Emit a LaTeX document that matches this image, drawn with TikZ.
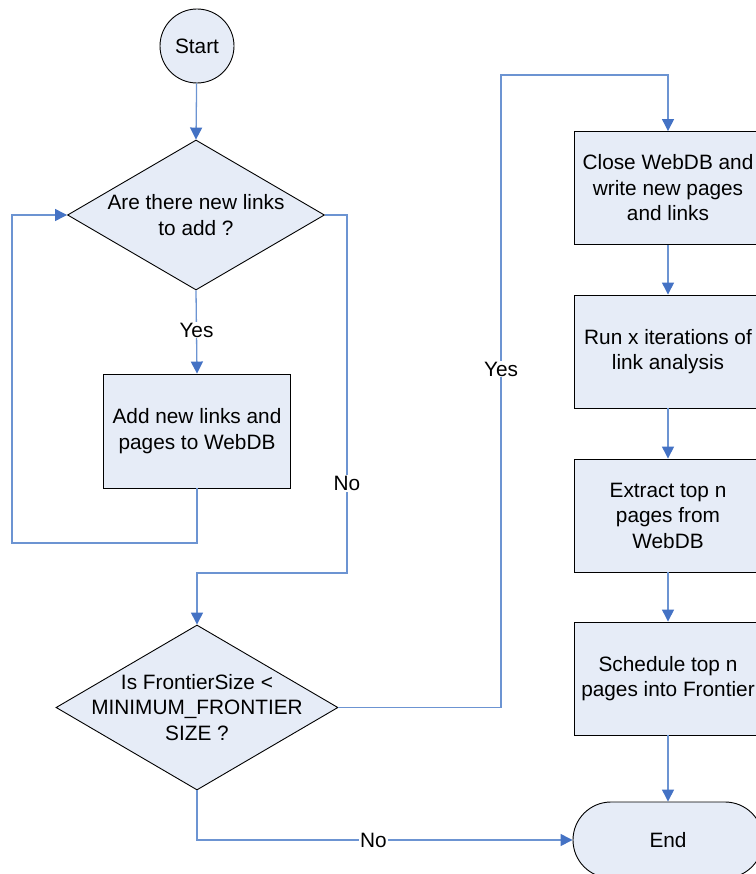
\documentclass[tikz,border=0pt]{standalone}
\usepackage{fontspec}
\setmainfont{Liberation Sans}
\usetikzlibrary{shapes.geometric,shapes.misc,arrows.meta}
\definecolor{boxfill}{RGB}{230,236,247}
\definecolor{flowline}{RGB}{108,148,210}
\definecolor{flowtip}{RGB}{68,114,196}
\tikzset{
  labelfont/.style={font=\fontsize{20.8}{25.5}\selectfont},
  base/.style={draw=black, line width=0.9pt, fill=boxfill, inner sep=0pt,
    align=center, labelfont},
  startnode/.style={base, circle, minimum size=74pt},
  decision/.style={base, diamond},
  process/.style={base, rectangle, minimum width=188pt, minimum height=113pt},
  terminal/.style={base, rounded rectangle, minimum width=190pt, minimum height=76pt},
  flow/.style={draw=flowline, line width=1.3pt,
    -{Triangle[length=12pt,width=12pt,fill=flowtip,color=flowtip]}},
  lbl/.style={fill=white, inner sep=1pt, labelfont}
}
\begin{document}
\begin{tikzpicture}[x=1pt,y=-1pt]
\useasboundingbox (0,0) rectangle (755,874);

% left column
\node[startnode] (start) at (197,46) {Start};
\node[decision, minimum width=257pt, minimum height=150pt,
  label={[align=center,labelfont]center:Are there new links\\to add ?}]
  (d1) at (196,215) {};
\node[process, minimum width=187pt, minimum height=114pt] (b1) at (197,431)
  {Add new links and\\pages to WebDB};
\node[decision, minimum width=282pt, minimum height=165pt,
  label={[align=center,labelfont]center:Is FrontierSize <\\MINIMUM\_FRONTIER\\SIZE ?}]
  (d2) at (197,707.5) {};

% right column
\node[process] (b2) at (668,188) {Close WebDB and\\write new pages\\and links};
\node[process] (b3) at (668,351.5) {Run x iterations of\\link analysis};
\node[process] (b4) at (668,515.5) {Extract top n\\pages from\\WebDB};
\node[process] (b5) at (668,678.5) {Schedule top n\\pages into Frontier};
\node[terminal] (end) at (668,840) {End};

% connectors
\draw[flow] (start) -- (d1.north);
\draw[flow] (d1.south) -- node[lbl,pos=0.476]{Yes} (b1.north);
\draw[flow] (b1.south) -- (197,543) -- (12,543) |- (d1.west);
\draw[flow] (d1.east) -- (347,215) -- node[lbl,pos=0.75]{No} (347,573) -| (d2.north);
\draw[flow] (d2.east) -- (501,707.5) -- node[lbl,pos=0.535]{Yes} (501,75) -| (b2.north);
\draw[flow] (b2.south) -- (b3.north);
\draw[flow] (b3.south) -- (b4.north);
\draw[flow] (b4.south) -- (b5.north);
\draw[flow] (b5.south) -- (end.north);
\draw[flow] (d2.south) |- node[lbl,pos=0.735]{No} (end.west);
\end{tikzpicture}
\end{document}
